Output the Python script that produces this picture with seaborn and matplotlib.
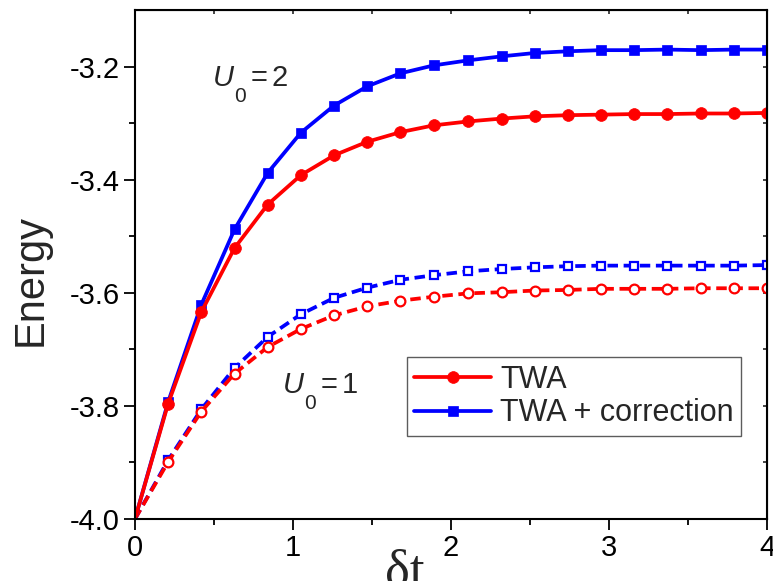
import numpy as np
import matplotlib
matplotlib.use('Agg')
import matplotlib.pyplot as plt
import seaborn as sns

# Data
dt = [0.0, 0.21, 0.42, 0.63, 0.84, 1.05, 1.26, 1.47, 1.68, 1.89,
      2.11, 2.32, 2.53, 2.74, 2.95, 3.16, 3.37, 3.58, 3.79, 4.0]

twa_u2 = [-4.0, -3.796, -3.634, -3.521, -3.444, -3.392, -3.357, -3.333, -3.316, -3.304,
          -3.297, -3.292, -3.288, -3.286, -3.285, -3.284, -3.284, -3.283, -3.283, -3.282]
corr_u2 = [-4.0, -3.793, -3.621, -3.488, -3.388, -3.317, -3.269, -3.235, -3.212, -3.198,
           -3.189, -3.182, -3.176, -3.173, -3.171, -3.171, -3.170, -3.171, -3.170, -3.170]
twa_u1 = [-4.0, -3.899, -3.810, -3.743, -3.696, -3.664, -3.640, -3.624, -3.614, -3.607,
          -3.601, -3.599, -3.596, -3.595, -3.593, -3.593, -3.593, -3.592, -3.592, -3.592]
corr_u1 = [-4.0, -3.896, -3.806, -3.733, -3.678, -3.638, -3.609, -3.591, -3.577, -3.569,
           -3.562, -3.558, -3.555, -3.553, -3.552, -3.552, -3.552, -3.552, -3.552, -3.551]

x_ticks = [0, 1, 2, 3, 4]
y_ticks = [-4.0, -3.8, -3.6, -3.4, -3.2]

RED = '#ff0000'
BLUE = '#0000ff'

sns.set_style('ticks')
plt.rcParams['font.family'] = ['Liberation Sans', 'DejaVu Sans']

fig = plt.figure(figsize=(7.73, 5.81), dpi=100)
ax = fig.add_axes([0.1746, 0.1067, 0.8176, 0.8761])

dash = (0, (2.8, 1.5))
skip0 = slice(1, None)

# blue first so the red curves sit on top
sns.lineplot(x=dt, y=corr_u1, ax=ax, color=BLUE, linewidth=2.7, linestyle=dash,
             marker='s', markersize=6, markerfacecolor='white', markeredgecolor=BLUE,
             markeredgewidth=1.6, markevery=skip0)
sns.lineplot(x=dt, y=twa_u1, ax=ax, color=RED, linewidth=2.7, linestyle=dash,
             marker='o', markersize=7, markerfacecolor='white', markeredgecolor=RED,
             markeredgewidth=1.6, markevery=skip0)
sns.lineplot(x=dt, y=corr_u2, ax=ax, color=BLUE, linewidth=2.7, marker='s',
             markersize=7.5, markeredgecolor=BLUE, markeredgewidth=0.5,
             markevery=skip0, label='TWA + correction')
sns.lineplot(x=dt, y=twa_u2, ax=ax, color=RED, linewidth=2.7, marker='o',
             markersize=8.5, markeredgecolor=RED, markeredgewidth=0.5,
             markevery=skip0, label='TWA')

ax.set_xlim(0, 4)
ax.set_ylim(-4.0, -3.1)
ax.set_xticks(x_ticks)
ax.set_xticks(np.arange(0.5, 4, 1.0), minor=True)
ax.set_yticks(y_ticks)
ax.set_yticklabels([f'{v:.1f}' for v in y_ticks])
ax.set_yticks(np.arange(-3.9, -3.1, 0.2), minor=True)
ax.tick_params(which='both', direction='out', width=1.3, colors='black',
               labelsize=21, top=False, right=False)
ax.tick_params(which='major', length=8, pad=3)
ax.tick_params(which='minor', length=4)
for s in ax.spines.values():
    s.set_linewidth(1.5)
    s.set_color('black')

# small inward ticks on top and right
top = ax.secondary_xaxis('top')
top.set_xticks(np.arange(0, 4.01, 0.5))
top.tick_params(direction='in', length=3, width=1.2, labeltop=False)
right = ax.secondary_yaxis('right')
right.set_yticks(np.arange(-4.0, -3.09, 0.1))
right.tick_params(direction='in', length=3, width=1.2, labelright=False)

ax.set_xlabel('')
ax.set_ylabel('Energy', fontsize=30)
ax.yaxis.set_label_coords(-0.134, 0.47)
fig.text(0.523, -0.007, 'δt', family='Liberation Serif', fontsize=38,
         ha='center', va='baseline')


def u0_label(x, y, value):
    # italic U, low subscript 0, then "=" and the value
    ax.text(x, y, 'U', fontsize=21, style='italic')
    ax.annotate('0', (x, y), xytext=(15.5, -11.5), textcoords='offset points',
                fontsize=15, annotation_clip=False)
    ax.annotate('=', (x, y), xytext=(27, 0), textcoords='offset points',
                fontsize=21, annotation_clip=False)
    ax.annotate(value, (x, y), xytext=(42, 0), textcoords='offset points',
                fontsize=21, annotation_clip=False)


u0_label(0.494, -3.235, '2')
u0_label(0.937, -3.777, '1')

handles, labels = ax.get_legend_handles_labels()
order = [labels.index('TWA'), labels.index('TWA + correction')]
leg = ax.legend([handles[i] for i in order], [labels[i] for i in order],
                loc='upper left', bbox_to_anchor=(0.430, 0.318), fontsize=22,
                frameon=True, fancybox=False, handlelength=2.5, handletextpad=0.3,
                borderpad=0.25, labelspacing=0.12, borderaxespad=0)
leg.get_frame().set_edgecolor('#333333')
leg.get_frame().set_linewidth(1.0)

fig.savefig('out.png', dpi=100)
